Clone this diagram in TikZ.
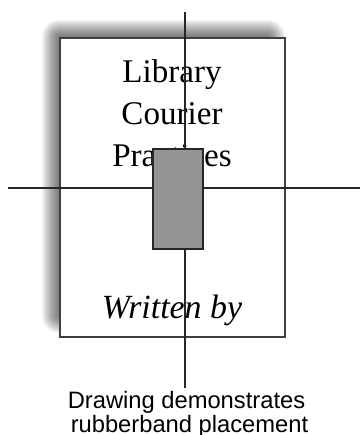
\documentclass[tikz,border=0pt]{standalone}
\usepackage{fontspec}
\setmainfont{Liberation Serif}
\setsansfont{Liberation Sans}
\tikzset{
  booktext/.style={anchor=base,inner sep=0pt,font=\fontsize{24.8}{31}\selectfont},
  captext/.style={anchor=base,inner sep=0pt,font=\sffamily\fontsize{17.8}{18}\selectfont},
  bandline/.style={line width=1.1pt,black!85},
}
\begin{document}
\begin{tikzpicture}[x=0.75pt,y=-0.75pt]
    \useasboundingbox (0,0) rectangle (360,435);
    % soft shadow behind the book
    \foreach \e in {0,...,17}
      \fill [black,opacity=0.038,rounded corners=\e*0.75pt] (59-\e,37-\e) rectangle (268+\e,316+\e);
    \draw [line width=1.6pt,black!75,fill=white] (60,38) rectangle (285,337);
    \node [booktext] (lib1) at (172,83) {Library};
    \node [booktext] (lib2) at (172,124) {Courier};
    \node [booktext] (lib3) at (172,166) {Practices};
    \node [booktext,font=\fontsize{25.4}{31}\selectfont\itshape] (author) at (172,318) {Written by};
    % rubberband lines
    \coordinate (vtop) at (185,12); \coordinate (vbot) at (185,388);
    \coordinate (hleft) at (8,188); \coordinate (hright) at (360,188);
    \draw [bandline] (vtop) -- (vbot);
    \draw [bandline] (hleft) -- (hright);
    \draw [line width=1.1pt,black!85,fill=black!42] (153,149) rectangle (203,249);
    \node [captext] (cap1) at (186.5,408) {Drawing demonstrates};
    \node [captext] (cap2) at (189.5,432) {rubberband placement};
  \end{tikzpicture}
\end{document}
